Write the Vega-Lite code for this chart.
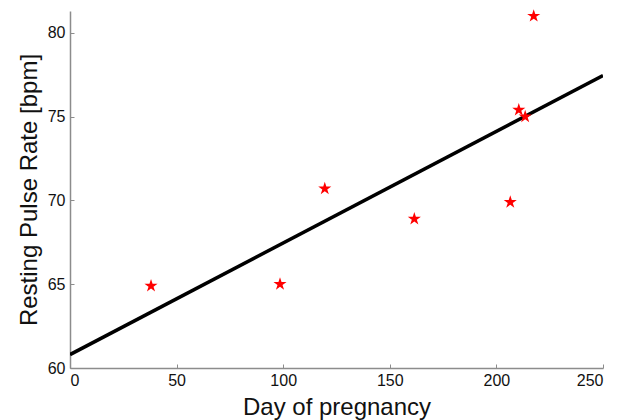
{
  "$schema": "https://vega.github.io/schema/vega-lite/v6.json",
  "autosize": "none",
  "width": 533,
  "height": 357,
  "padding": {"left": 70, "top": 11, "right": 22, "bottom": 52},
  "background": "white",
  "config": {
    "view": {"stroke": null},
    "font": "Liberation Sans",
    "axis": {
      "grid": false,
      "domainColor": "#8c8c8c",
      "domainWidth": 1.5,
      "tickColor": "#8c8c8c",
      "tickSize": -4,
      "tickWidth": 1,
      "labelFont": "Liberation Sans",
      "labelFontSize": 16,
      "labelColor": "#111",
      "titleFont": "Liberation Sans",
      "titleFontSize": 24,
      "titleFontWeight": "normal",
      "titleColor": "#111"
    }
  },
  "datasets": {
    "points": [
      {"day": 38, "pulse": 64.9},
      {"day": 98.5, "pulse": 65.0},
      {"day": 119.5, "pulse": 70.7},
      {"day": 161.5, "pulse": 68.9},
      {"day": 206.5, "pulse": 69.9},
      {"day": 210.5, "pulse": 75.4},
      {"day": 213.5, "pulse": 75.0},
      {"day": 217.5, "pulse": 81.0}
    ],
    "fit": [
      {"day": 0, "pulse": 60.8},
      {"day": 250, "pulse": 77.45}
    ]
  },
  "layer": [
    {
      "data": {"name": "fit"},
      "mark": {"type": "line", "color": "black", "strokeWidth": 3.5, "clip": true},
      "encoding": {
        "x": {
          "field": "day", "type": "quantitative",
          "scale": {"domain": [0, 250], "nice": false},
          "axis": {"values": [0, 50, 100, 150, 200, 250], "title": "Day of pregnancy", "labelPadding": 8, "titlePadding": 7}
        },
        "y": {
          "field": "pulse", "type": "quantitative",
          "scale": {"domain": [60, 81.3], "nice": false, "zero": false},
          "axis": {"values": [60, 65, 70, 75, 80], "title": "Resting Pulse Rate [bpm]", "labelPadding": 9, "titlePadding": 6}
        }
      }
    },
    {
      "data": {"name": "points"},
      "mark": {
        "type": "point",
        "shape": "M0,-1L0.2245,-0.309L0.951,-0.309L0.363,0.118L0.588,0.809L0,0.382L-0.588,0.809L-0.363,0.118L-0.951,-0.309L-0.2245,-0.309Z",
        "filled": true,
        "color": "#ff0000",
        "opacity": 1,
        "size": 190
      },
      "encoding": {
        "x": {"field": "day", "type": "quantitative"},
        "y": {"field": "pulse", "type": "quantitative"}
      }
    }
  ]
}
